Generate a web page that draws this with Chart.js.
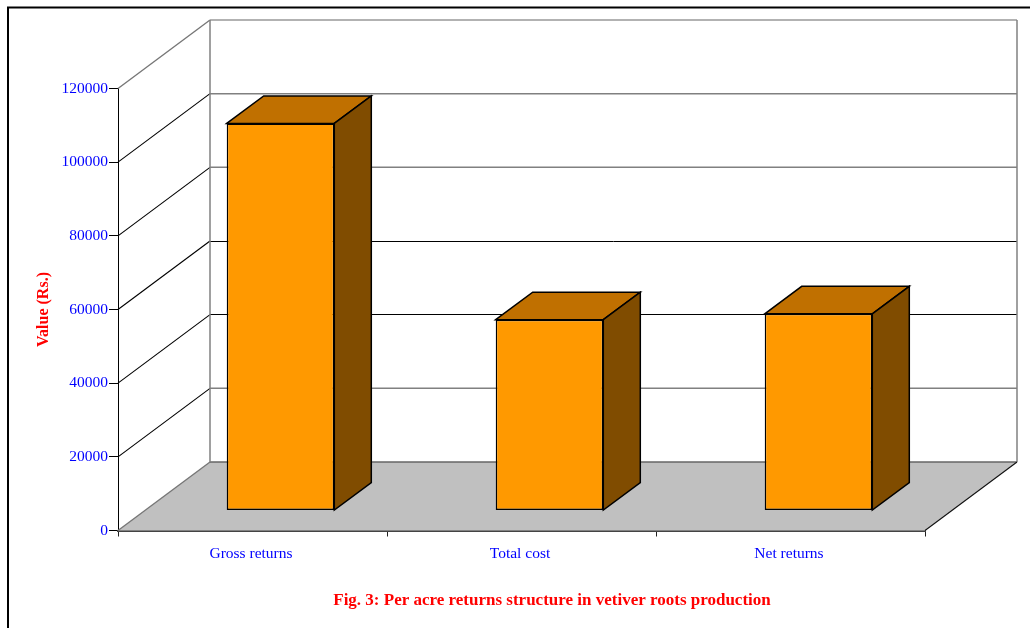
<!DOCTYPE html>
<html>
<head>
<meta charset="utf-8">
<title>Per acre returns</title>
<script src="https://cdn.jsdelivr.net/npm/chart.js@4"></script>
<style>
  html, body { margin: 0; padding: 0; background: #fff; }
  canvas { display: block; }
</style>
</head>
<body>
<canvas id="grafico" width="1030" height="628"></canvas>
<script>
const categorias = ["Gross returns", "Total cost", "Net returns"];
const valores = [105100, 51800, 53400];
const legenda = "Fig. 3: Per acre returns structure in vetiver roots production";

// profundidade da caixa 3D e recuo das barras em relacao ao eixo
const CAIXA_DX = 92, CAIXA_DY = -68.5;
const BARRA_DX = 28, BARRA_DY = -20;
const LADO_DX = 37, LADO_DY = -27.5;

const FONTE = "'Liberation Serif', 'Times New Roman', serif";

function linha(ctx, x1, y1, x2, y2, cor, largura) {
  ctx.strokeStyle = cor;
  ctx.lineWidth = largura;
  ctx.beginPath();
  ctx.moveTo(x1, y1);
  ctx.lineTo(x2, y2);
  ctx.stroke();
}

function poligono(ctx, pontos, cor, contorno) {
  ctx.beginPath();
  pontos.forEach(([x, y], i) => (i ? ctx.lineTo(x, y) : ctx.moveTo(x, y)));
  ctx.closePath();
  ctx.fillStyle = cor;
  ctx.fill();
  if (contorno) {
    ctx.strokeStyle = contorno;
    ctx.lineWidth = 1.5;
    ctx.lineJoin = "miter";
    ctx.stroke();
  }
}

const caixa3d = {
  id: "caixa3d",
  beforeDatasetsDraw(chart) {
    const { ctx, chartArea, scales } = chart;
    const esq = chartArea.left, dir = chartArea.right;
    const zero = scales.y.getPixelForValue(0);

    ctx.save();
    // moldura da pagina
    linha(ctx, 8, 628, 8, 7.5, "#000", 2);
    linha(ctx, 7, 7.5, 1030, 7.5, "#000", 2);

    // piso
    poligono(ctx, [
      [esq, zero],
      [esq + CAIXA_DX, zero + CAIXA_DY],
      [dir + CAIXA_DX, zero + CAIXA_DY],
      [dir, zero],
    ], "#c0c0c0");

    // linhas de grade na parede esquerda e no fundo
    scales.y.ticks.forEach((tick) => {
      const y = scales.y.getPixelForValue(tick.value);
      const topo = tick.value === 120000;
      const base = tick.value === 0;
      const escura = tick.value === 60000 || tick.value === 40000;
      const corLateral = topo || base ? "#777" : "#000";
      const corFundo = base ? "#666" : topo ? "#999" : escura ? "#000" : "#808080";
      const yFundo = escura ? Math.floor(y + CAIXA_DY) + 0.5 : y + CAIXA_DY;
      linha(ctx, esq, y, esq + CAIXA_DX, y + CAIXA_DY, corLateral, topo || base ? 1.4 : 1.1);
      linha(ctx, esq + CAIXA_DX, yFundo, dir + CAIXA_DX, yFundo, corFundo, escura ? 1 : 1.5);
    });

    // verticais do fundo
    const topoY = scales.y.getPixelForValue(120000) + CAIXA_DY;
    const baseY = zero + CAIXA_DY;
    linha(ctx, esq + CAIXA_DX, topoY, esq + CAIXA_DX, baseY, "#808080", 1.5);
    linha(ctx, dir + CAIXA_DX, topoY, dir + CAIXA_DX, baseY, "#808080", 1.5);
    // borda direita do piso
    linha(ctx, dir, zero, dir + CAIXA_DX, baseY, "#111", 1.1);

    ctx.restore();
  },
  beforeDatasetDraw(chart) {
    const { ctx } = chart;
    ctx.save();
    ctx.translate(BARRA_DX, BARRA_DY);
    // topo e lateral de cada barra, a frente vem do proprio Chart.js
    chart.getDatasetMeta(0).data.forEach((barra) => {
      const e = barra.x - barra.width / 2;
      const d = barra.x + barra.width / 2;
      poligono(ctx, [
        [e, barra.y],
        [e + LADO_DX, barra.y + LADO_DY],
        [d + LADO_DX, barra.y + LADO_DY],
        [d, barra.y],
      ], "#c07000", "#000");
      poligono(ctx, [
        [d, barra.y],
        [d + LADO_DX, barra.y + LADO_DY],
        [d + LADO_DX, barra.base + LADO_DY],
        [d, barra.base],
      ], "#804c00", "#000");
    });
  },
  afterDatasetDraw(chart) {
    chart.ctx.restore();
  },
  afterDraw(chart) {
    const { ctx } = chart;
    ctx.save();
    ctx.fillStyle = "#ff0000";
    ctx.font = "bold 17px " + FONTE;
    ctx.textAlign = "center";
    ctx.textBaseline = "middle";
    ctx.fillText(legenda, 552, 601);
    ctx.restore();
  },
};

new Chart(document.getElementById("grafico"), {
  type: "bar",
  data: {
    labels: categorias,
    datasets: [{
      label: "Value (Rs.)",
      data: valores,
      backgroundColor: "#ff9900",
      borderColor: "#000",
      borderWidth: 1.5,
      borderSkipped: false,
      barPercentage: 0.4,
      categoryPercentage: 1,
    }],
  },
  plugins: [caixa3d],
  options: {
    responsive: false,
    animation: false,
    layout: { padding: { top: 88.5, right: 105, left: 0, bottom: 0 } },
    plugins: {
      legend: { display: false },
      tooltip: { enabled: false },
    },
    scales: {
      x: {
        grid: { drawOnChartArea: false, tickLength: 6, tickColor: "#222", tickWidth: 1 },
        border: { color: "#444", width: 2 },
        ticks: {
          color: "#0000ff",
          font: { family: FONTE, size: 15.5 },
          padding: 8,
          maxRotation: 0,
          labelOffset: -1.5,
        },
        afterFit(escala) { escala.height = 97.5; },
      },
      y: {
        min: 0,
        max: 120000,
        grid: { drawOnChartArea: false, tickLength: 9, tickColor: "#000", tickWidth: 1 },
        border: { color: "#000", width: 1 },
        ticks: {
          stepSize: 20000,
          color: "#0000ff",
          font: { family: FONTE, size: 15.5 },
          padding: 1,
          callback: (valor) => String(valor),
        },
        title: {
          display: true,
          text: "Value (Rs.)",
          color: "#ff0000",
          font: { family: FONTE, size: 16, weight: "bold" },
          padding: { top: 34, bottom: 0 },
        },
        afterFit(escala) { escala.width = 118; },
      },
    },
  },
});
</script>
</body>
</html>
